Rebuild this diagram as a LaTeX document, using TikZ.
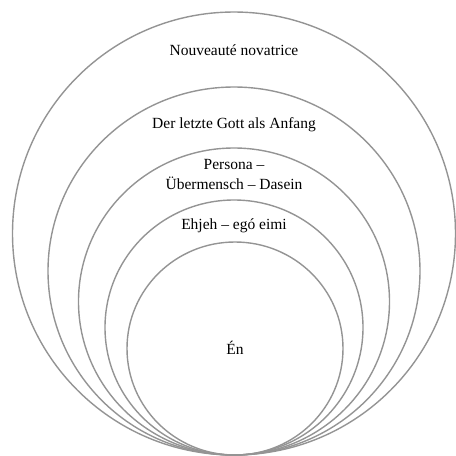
\documentclass[tikz,border=0pt]{standalone}
\usepackage{fontspec}
\setmainfont{Liberation Serif}
\begin{document}
\begin{tikzpicture}[x=1pt,y=1pt,
  ring/.style={draw=black!42, line width=1.4pt},
  lbl/.style={font=\fontsize{15.5}{20}\selectfont, align=center, text=black}]
\useasboundingbox (0,0) rectangle (456,-456);
\draw[ring] (234,-233.5) ellipse [x radius=221.5, y radius=221.5];
\draw[ring] (234,-271) ellipse [x radius=186, y radius=184];
\draw[ring] (234,-301.5) ellipse [x radius=155.5, y radius=153.5];
\draw[ring] (234,-327.5) ellipse [x radius=129, y radius=127.5];
\draw[ring] (235,-348.5) ellipse [x radius=108, y radius=106.5];
\node[lbl] (l1) at (234,-50) {Nouveauté novatrice};
\node[lbl] (l2) at (234,-125) {Der letzte Gott als Anfang};
\node[lbl] (l3) at (234,-174) {Persona –\\Übermensch – Dasein};
\node[lbl] (l4) at (234,-226) {Ehjeh – egó eimi};
\node[lbl] (l5) at (235,-348) {Én};
\end{tikzpicture}
\end{document}
